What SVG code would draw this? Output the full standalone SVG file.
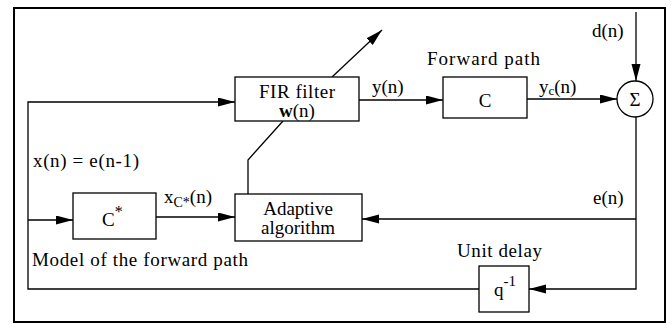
<svg xmlns="http://www.w3.org/2000/svg" width="672" height="325" viewBox="0 0 672 325">
<style>
text{font-family:"Liberation Serif","Times New Roman",serif;font-size:19px;fill:#000}
.box{fill:#fff;stroke:#000;stroke-width:1.3}
.ln{fill:none;stroke:#000;stroke-width:1.3}
.c{text-anchor:middle}
</style>
<defs>
<marker id="ar" markerUnits="userSpaceOnUse" markerWidth="18" markerHeight="10" refX="17" refY="4.5" orient="auto">
<path d="M0,0 L17,4.5 L0,9 z" fill="#000"/>
</marker>
</defs>
<rect x="14" y="8" width="651" height="314" fill="#fff" stroke="#000" stroke-width="2"/>
<g id="connectors">
<polyline class="ln" points="479,289 28,289 28,102 235,102" marker-end="url(#ar)"/>
<line class="ln" x1="28" y1="220" x2="73" y2="220" marker-end="url(#ar)"/>
<line class="ln" x1="156" y1="217" x2="235" y2="217" marker-end="url(#ar)"/>
<line class="ln" x1="359" y1="100" x2="443" y2="100" marker-end="url(#ar)"/>
<line class="ln" x1="527" y1="99" x2="617" y2="99" marker-end="url(#ar)"/>
<line class="ln" x1="636" y1="12" x2="636" y2="81" marker-end="url(#ar)"/>
<polyline class="ln" points="636,117 636,289 529,289" marker-end="url(#ar)"/>
<line class="ln" x1="636" y1="219" x2="362" y2="219" marker-end="url(#ar)"/>
<polyline class="ln" points="248,194 248,160 283,121"/>
<line class="ln" x1="332" y1="77" x2="382" y2="30" marker-end="url(#ar)"/>
</g>
<g id="fir">
<rect class="box" x="235" y="77" width="124" height="44"/>
<text class="c" x="297" y="98" textLength="76">FIR filter</text>
<text class="c" x="297" y="117"><tspan font-weight="bold">w</tspan>(n)</text>
</g>
<g id="forward">
<rect class="box" x="443" y="77" width="84" height="41"/>
<text class="c" x="485" y="107">C</text>
</g>
<g id="sum">
<circle cx="635" cy="99" r="18" fill="#fff" stroke="#000" stroke-width="1.3"/>
<text class="c" x="635" y="106" font-size="20">Σ</text>
</g>
<g id="model">
<rect class="box" x="73" y="193" width="83" height="46"/>
<text x="102" y="226">C<tspan font-size="16" dy="-9">*</tspan></text>
</g>
<g id="adaptive">
<rect class="box" x="235" y="194" width="127" height="47"/>
<text class="c" x="298" y="215">Adaptive</text>
<text class="c" x="298" y="234">algorithm</text>
</g>
<g id="delay">
<rect class="box" x="479" y="266" width="50" height="46"/>
<text x="494" y="296">q<tspan dy="-10" font-size="15">-1</tspan></text>
</g>
<g id="labels">
<text x="372" y="93">y(n)</text>
<text x="427" y="65" textLength="113">Forward path</text>
<text x="539" y="93">y<tspan font-size="13" dy="2">c</tspan><tspan dy="-2">(n)</tspan></text>
<text x="592" y="37">d(n)</text>
<text x="593" y="204">e(n)</text>
<text x="457" y="257" textLength="85">Unit delay</text>
<text x="164" y="203">x<tspan font-size="14" dy="4">C*</tspan><tspan dy="-4">(n)</tspan></text>
<text x="33" y="167" textLength="106">x(n) = e(n-1)</text>
<text x="32" y="266" textLength="216">Model of the forward path</text>
</g>
</svg>
